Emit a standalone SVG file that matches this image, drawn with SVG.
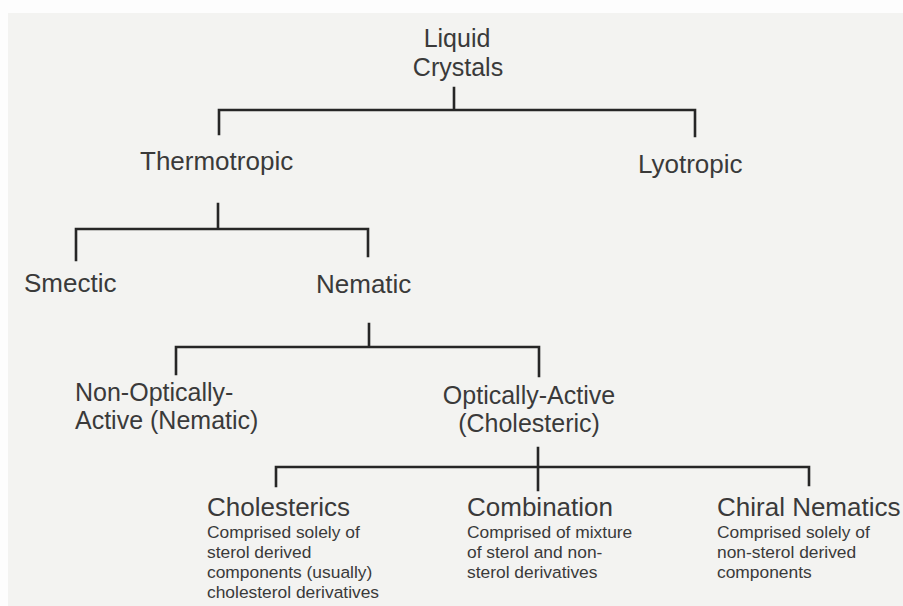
<svg xmlns="http://www.w3.org/2000/svg" width="903" height="606" viewBox="0 0 903 606">
<style>
.lbl{font-family:"Liberation Sans",Arial,sans-serif;font-size:26px;fill:#3a3a3a}
.two{font-size:25px}
.sub{font-size:17.4px}
.mid{text-anchor:middle}
.conn{fill:none;stroke:#262626;stroke-width:2.6;stroke-linecap:square}
</style>
<rect x="0" y="0" width="903" height="606" fill="#fdfdfd"/>
<rect x="8" y="13" width="895" height="593" fill="#f3f3f1"/>
<g id="connectors">
<path class="conn" d="M454,88 V110 M219,134 V110 H695 V136"/>
<path class="conn" d="M218,204 V229 M76,260 V229 H368 V256"/>
<path class="conn" d="M369,324 V346 M176,374 V347 H539 V376"/>
<path class="conn" d="M538,448 V490 M276,486 V467 H809 V485"/>
</g>
<g id="liquid-crystals"><text class="lbl two mid"><tspan x="457" y="47">Liquid</tspan><tspan x="458" y="75.5">Crystals</tspan></text></g>
<g id="thermotropic"><text class="lbl" x="140" y="170">Thermotropic</text></g>
<g id="lyotropic"><text class="lbl" x="638" y="173">Lyotropic</text></g>
<g id="smectic"><text class="lbl" x="24" y="292">Smectic</text></g>
<g id="nematic"><text class="lbl" x="316" y="293">Nematic</text></g>
<g id="non-optically-active"><text class="lbl two"><tspan x="75" y="400.5">Non-Optically-</tspan><tspan x="75" y="429">Active (Nematic)</tspan></text></g>
<g id="optically-active"><text class="lbl two mid"><tspan x="529" y="403.5">Optically-Active</tspan><tspan x="529" y="432">(Cholesteric)</tspan></text></g>
<g id="cholesterics"><text class="lbl"><tspan x="207" y="516">Cholesterics</tspan><tspan class="sub" x="207" y="538">Comprised solely of</tspan><tspan class="sub" x="207" y="558">sterol derived</tspan><tspan class="sub" x="207" y="578">components (usually)</tspan><tspan class="sub" x="207" y="598">cholesterol derivatives</tspan></text></g>
<g id="combination"><text class="lbl"><tspan x="467" y="516">Combination</tspan><tspan class="sub" x="467" y="538">Comprised of mixture</tspan><tspan class="sub" x="467" y="558">of sterol and non-</tspan><tspan class="sub" x="467" y="578">sterol derivatives</tspan></text></g>
<g id="chiral-nematics"><text class="lbl"><tspan x="717" y="516">Chiral Nematics</tspan><tspan class="sub" x="717" y="538">Comprised solely of</tspan><tspan class="sub" x="717" y="558">non-sterol derived</tspan><tspan class="sub" x="717" y="578">components</tspan></text></g>
</svg>
